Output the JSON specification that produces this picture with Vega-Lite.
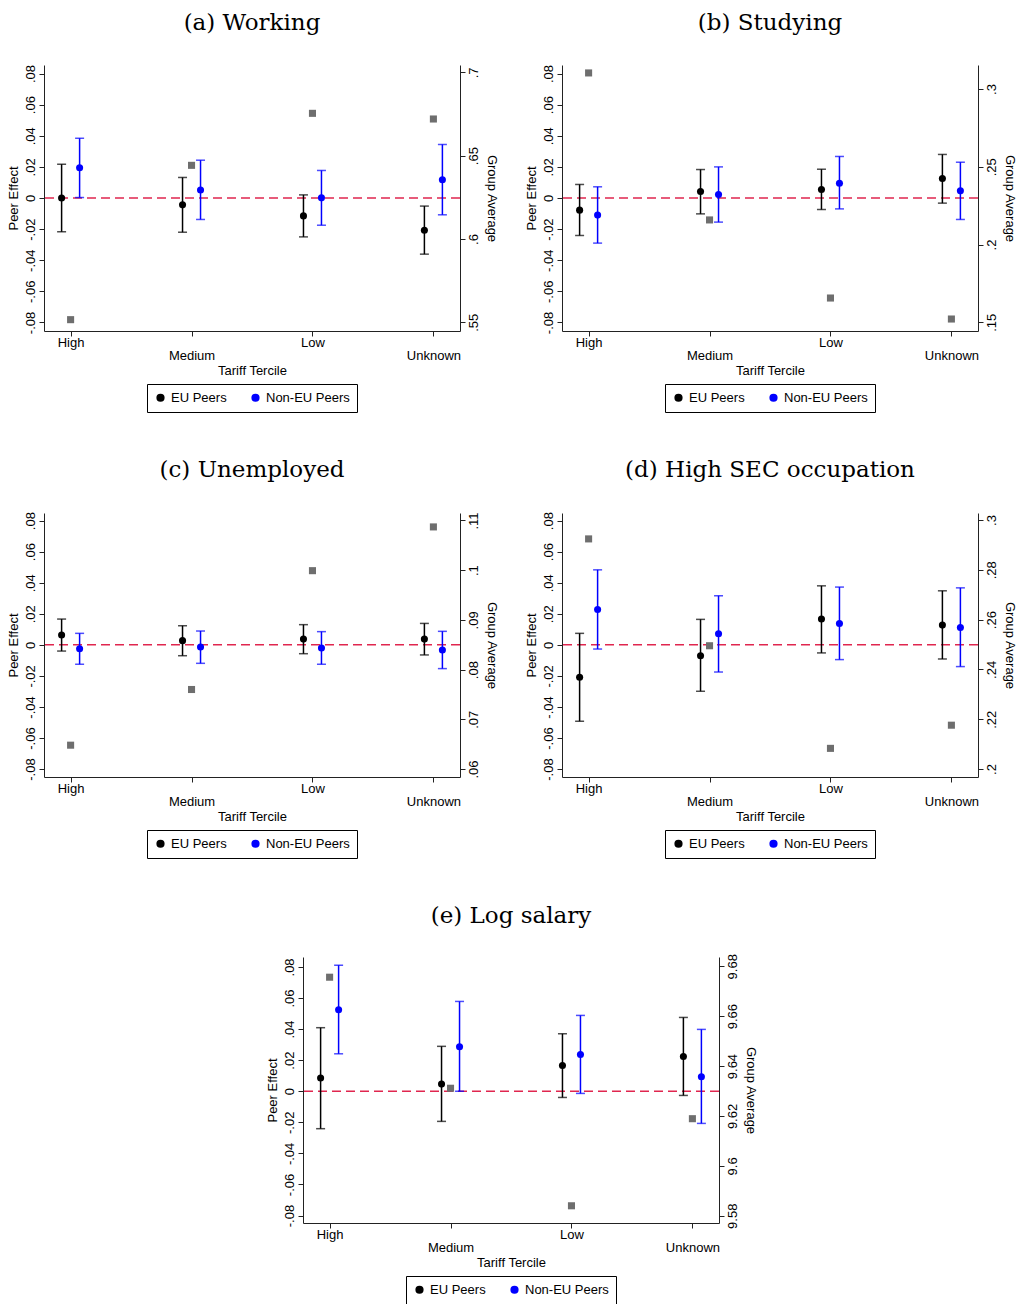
{
  "$schema": "https://vega.github.io/schema/vega-lite/v6.json",
  "padding": {"left": 7, "top": 11, "right": 5, "bottom": 0},
  "datasets": {
    "eff": [
      {"panel": "a", "cat": "High", "group": "EU Peers", "est": 0.0000, "lo": -0.0217, "hi": 0.0217},
      {"panel": "a", "cat": "High", "group": "Non-EU Peers", "est": 0.0194, "lo": 0.0003, "hi": 0.0384},
      {"panel": "a", "cat": "Medium", "group": "EU Peers", "est": -0.0044, "lo": -0.0220, "hi": 0.0132},
      {"panel": "a", "cat": "Medium", "group": "Non-EU Peers", "est": 0.0052, "lo": -0.0138, "hi": 0.0243},
      {"panel": "a", "cat": "Low", "group": "EU Peers", "est": -0.0115, "lo": -0.0250, "hi": 0.0020},
      {"panel": "a", "cat": "Low", "group": "Non-EU Peers", "est": 0.0001, "lo": -0.0175, "hi": 0.0177},
      {"panel": "a", "cat": "Unknown", "group": "EU Peers", "est": -0.0207, "lo": -0.0361, "hi": -0.0052},
      {"panel": "a", "cat": "Unknown", "group": "Non-EU Peers", "est": 0.0117, "lo": -0.0108, "hi": 0.0344},
      {"panel": "b", "cat": "High", "group": "EU Peers", "est": -0.0078, "lo": -0.0241, "hi": 0.0087},
      {"panel": "b", "cat": "High", "group": "Non-EU Peers", "est": -0.0110, "lo": -0.0290, "hi": 0.0072},
      {"panel": "b", "cat": "Medium", "group": "EU Peers", "est": 0.0042, "lo": -0.0102, "hi": 0.0183},
      {"panel": "b", "cat": "Medium", "group": "Non-EU Peers", "est": 0.0022, "lo": -0.0155, "hi": 0.0200},
      {"panel": "b", "cat": "Low", "group": "EU Peers", "est": 0.0055, "lo": -0.0074, "hi": 0.0185},
      {"panel": "b", "cat": "Low", "group": "Non-EU Peers", "est": 0.0095, "lo": -0.0070, "hi": 0.0267},
      {"panel": "b", "cat": "Unknown", "group": "EU Peers", "est": 0.0125, "lo": -0.0033, "hi": 0.0280},
      {"panel": "b", "cat": "Unknown", "group": "Non-EU Peers", "est": 0.0046, "lo": -0.0138, "hi": 0.0230},
      {"panel": "c", "cat": "High", "group": "EU Peers", "est": 0.0063, "lo": -0.0040, "hi": 0.0166},
      {"panel": "c", "cat": "High", "group": "Non-EU Peers", "est": -0.0025, "lo": -0.0125, "hi": 0.0074},
      {"panel": "c", "cat": "Medium", "group": "EU Peers", "est": 0.0027, "lo": -0.0070, "hi": 0.0123},
      {"panel": "c", "cat": "Medium", "group": "Non-EU Peers", "est": -0.0014, "lo": -0.0119, "hi": 0.0089},
      {"panel": "c", "cat": "Low", "group": "EU Peers", "est": 0.0037, "lo": -0.0057, "hi": 0.0130},
      {"panel": "c", "cat": "Low", "group": "Non-EU Peers", "est": -0.0020, "lo": -0.0125, "hi": 0.0085},
      {"panel": "c", "cat": "Unknown", "group": "EU Peers", "est": 0.0037, "lo": -0.0065, "hi": 0.0138},
      {"panel": "c", "cat": "Unknown", "group": "Non-EU Peers", "est": -0.0033, "lo": -0.0153, "hi": 0.0087},
      {"panel": "d", "cat": "High", "group": "EU Peers", "est": -0.0209, "lo": -0.0492, "hi": 0.0074},
      {"panel": "d", "cat": "High", "group": "Non-EU Peers", "est": 0.0228, "lo": -0.0027, "hi": 0.0483},
      {"panel": "d", "cat": "Medium", "group": "EU Peers", "est": -0.0070, "lo": -0.0299, "hi": 0.0164},
      {"panel": "d", "cat": "Medium", "group": "Non-EU Peers", "est": 0.0072, "lo": -0.0175, "hi": 0.0316},
      {"panel": "d", "cat": "Low", "group": "EU Peers", "est": 0.0166, "lo": -0.0052, "hi": 0.0380},
      {"panel": "d", "cat": "Low", "group": "Non-EU Peers", "est": 0.0138, "lo": -0.0095, "hi": 0.0372},
      {"panel": "d", "cat": "Unknown", "group": "EU Peers", "est": 0.0127, "lo": -0.0091, "hi": 0.0348},
      {"panel": "d", "cat": "Unknown", "group": "Non-EU Peers", "est": 0.0112, "lo": -0.0140, "hi": 0.0367},
      {"panel": "e", "cat": "High", "group": "EU Peers", "est": 0.0085, "lo": -0.0241, "hi": 0.0409},
      {"panel": "e", "cat": "High", "group": "Non-EU Peers", "est": 0.0524, "lo": 0.0241, "hi": 0.0811},
      {"panel": "e", "cat": "Medium", "group": "EU Peers", "est": 0.0046, "lo": -0.0194, "hi": 0.0289},
      {"panel": "e", "cat": "Medium", "group": "Non-EU Peers", "est": 0.0286, "lo": 0.0000, "hi": 0.0578},
      {"panel": "e", "cat": "Low", "group": "EU Peers", "est": 0.0166, "lo": -0.0040, "hi": 0.0370},
      {"panel": "e", "cat": "Low", "group": "Non-EU Peers", "est": 0.0237, "lo": -0.0014, "hi": 0.0488},
      {"panel": "e", "cat": "Unknown", "group": "EU Peers", "est": 0.0224, "lo": -0.0027, "hi": 0.0475},
      {"panel": "e", "cat": "Unknown", "group": "Non-EU Peers", "est": 0.0093, "lo": -0.0207, "hi": 0.0398}
    ],
    "avg": [
      {"panel": "a", "cat": "High", "avg": 0.5516},
      {"panel": "a", "cat": "Medium", "avg": 0.6442},
      {"panel": "a", "cat": "Low", "avg": 0.6754},
      {"panel": "a", "cat": "Unknown", "avg": 0.6720},
      {"panel": "b", "cat": "High", "avg": 0.3103},
      {"panel": "b", "cat": "Medium", "avg": 0.2158},
      {"panel": "b", "cat": "Low", "avg": 0.1656},
      {"panel": "b", "cat": "Unknown", "avg": 0.1521},
      {"panel": "c", "cat": "High", "avg": 0.0648},
      {"panel": "c", "cat": "Medium", "avg": 0.0760},
      {"panel": "c", "cat": "Low", "avg": 0.0999},
      {"panel": "c", "cat": "Unknown", "avg": 0.1087},
      {"panel": "d", "cat": "High", "avg": 0.2924},
      {"panel": "d", "cat": "Medium", "avg": 0.2495},
      {"panel": "d", "cat": "Low", "avg": 0.2083},
      {"panel": "d", "cat": "Unknown", "avg": 0.2176},
      {"panel": "e", "cat": "High", "avg": 9.6756},
      {"panel": "e", "cat": "Medium", "avg": 9.6311},
      {"panel": "e", "cat": "Low", "avg": 9.5840},
      {"panel": "e", "cat": "Unknown", "avg": 9.6189}
    ]
  },
  "config": {
    "font": "Liberation Sans",
    "view": {"stroke": null},
    "axis": {
      "labelFont": "Liberation Sans", "labelFontSize": 13, "labelColor": "black", "labelOverlap": false, "labelBound": false,
      "titleFont": "Liberation Sans", "titleFontSize": 13, "titleFontWeight": "normal", "titleColor": "black",
      "domainColor": "#222222", "tickColor": "#222222", "grid": false, "tickSize": 5
    },
    "title": {"font": "DejaVu Serif", "fontSize": 23, "fontWeight": "normal", "anchor": "middle", "frame": "group", "offset": 30, "color": "black"},
    "legend": {"labelFont": "Liberation Sans", "labelFontSize": 13, "labelColor": "black", "layout": {"bottom": {"anchor": "middle"}}}
  },
  "resolve": {"scale": {"color": "independent"}, "legend": {"color": "independent"}},
  "center": true,
  "spacing": 45,
  "vconcat": [
    {
      "hconcat": [
        {
          "title": "(a) Working", "width": 416, "height": 266,
          "resolve": {"scale": {"y": "independent"}},
          "layer": [
            {
              "layer": [
                {"data": {"values": [{}]}, "mark": {"type": "rule", "color": "#e0264f", "strokeDash": [9, 5], "strokeWidth": 1.5},
                 "encoding": {"y": {"datum": 0, "type": "quantitative", "scale": {"domain": [-0.0855, 0.0855], "nice": false, "zero": false}, "axis": {"title": "Peer Effect", "values": [-0.08, -0.06, -0.04, -0.02, 0, 0.02, 0.04, 0.06, 0.08], "labelExpr": "datum.value == 0 ? '0' : (datum.value < 0 ? '-' : '') + substring(format(abs(datum.value), '.2f'), 1)", "labelAngle": -90, "labelOverlap": false, "titlePadding": 4}}}},
                {"data": {"name": "eff"}, "transform": [{"filter": "datum.panel == 'a'"}], "mark": {"type": "circle", "size": 50, "opacity": 1},
                 "encoding": {"x": {"field": "cat", "type": "nominal", "scale": {"type": "point", "domain": ["High", "Medium", "Low", "Unknown"], "padding": 0.22}, "axis": {"title": "Tariff Tercile", "labelAngle": 0, "labelExpr": "datum.value == 'Medium' || datum.value == 'Unknown' ? ['', datum.value] : datum.value", "labelLineHeight": 13, "labelPadding": 0, "titlePadding": 2}},
                  "xOffset": {"field": "group", "type": "nominal", "scale": {"type": "point", "domain": ["EU Peers", "Non-EU Peers"], "range": [-18, 18]}},
                  "y": {"field": "est", "type": "quantitative", "axis": {"title": "Peer Effect", "values": [-0.08, -0.06, -0.04, -0.02, 0, 0.02, 0.04, 0.06, 0.08], "labelExpr": "datum.value == 0 ? '0' : (datum.value < 0 ? '-' : '') + substring(format(abs(datum.value), '.2f'), 1)", "labelAngle": -90, "labelOverlap": false, "titlePadding": 4}},
                  "color": {"field": "group", "type": "nominal", "scale": {"domain": ["EU Peers", "Non-EU Peers"], "range": ["black", "blue"]},
                   "legend": {"title": null, "orient": "bottom", "direction": "horizontal", "strokeColor": "black", "padding": 7, "symbolType": "circle", "symbolSize": 45, "columnPadding": 22, "offset": 7}}}},
                {"data": {"name": "eff"}, "transform": [{"filter": "datum.panel == 'a'"}], "mark": {"type": "rule", "strokeWidth": 1.5},
                 "encoding": {"x": {"field": "cat", "type": "nominal"}, "xOffset": {"field": "group", "type": "nominal", "scale": {"type": "point", "domain": ["EU Peers", "Non-EU Peers"], "range": [-18, 18]}},
                  "y": {"field": "lo", "type": "quantitative", "axis": {"title": "Peer Effect", "values": [-0.08, -0.06, -0.04, -0.02, 0, 0.02, 0.04, 0.06, 0.08], "labelExpr": "datum.value == 0 ? '0' : (datum.value < 0 ? '-' : '') + substring(format(abs(datum.value), '.2f'), 1)", "labelAngle": -90, "labelOverlap": false, "titlePadding": 4}}, "y2": {"field": "hi"},
                  "color": {"field": "group", "type": "nominal"}}},
                {"data": {"name": "eff"}, "transform": [{"filter": "datum.panel == 'a'"}], "mark": {"type": "tick", "size": 9, "thickness": 1.5},
                 "encoding": {"x": {"field": "cat", "type": "nominal"}, "xOffset": {"field": "group", "type": "nominal", "scale": {"type": "point", "domain": ["EU Peers", "Non-EU Peers"], "range": [-18, 18]}},
                  "y": {"field": "lo", "type": "quantitative", "axis": {"title": "Peer Effect", "values": [-0.08, -0.06, -0.04, -0.02, 0, 0.02, 0.04, 0.06, 0.08], "labelExpr": "datum.value == 0 ? '0' : (datum.value < 0 ? '-' : '') + substring(format(abs(datum.value), '.2f'), 1)", "labelAngle": -90, "labelOverlap": false, "titlePadding": 4}},
                  "color": {"field": "group", "type": "nominal"}}},
                {"data": {"name": "eff"}, "transform": [{"filter": "datum.panel == 'a'"}], "mark": {"type": "tick", "size": 9, "thickness": 1.5},
                 "encoding": {"x": {"field": "cat", "type": "nominal"}, "xOffset": {"field": "group", "type": "nominal", "scale": {"type": "point", "domain": ["EU Peers", "Non-EU Peers"], "range": [-18, 18]}},
                  "y": {"field": "hi", "type": "quantitative", "axis": {"title": "Peer Effect", "values": [-0.08, -0.06, -0.04, -0.02, 0, 0.02, 0.04, 0.06, 0.08], "labelExpr": "datum.value == 0 ? '0' : (datum.value < 0 ? '-' : '') + substring(format(abs(datum.value), '.2f'), 1)", "labelAngle": -90, "labelOverlap": false, "titlePadding": 4}},
                  "color": {"field": "group", "type": "nominal"}}}
              ]
            },
            {"data": {"name": "avg"}, "transform": [{"filter": "datum.panel == 'a'"}], "mark": {"type": "square", "size": 50, "color": "#6e6e6e", "opacity": 1},
             "encoding": {"x": {"field": "cat", "type": "nominal"},
              "y": {"field": "avg", "type": "quantitative", "scale": {"domain": [0.5448, 0.7044], "nice": false, "zero": false}, "axis": {"orient": "right", "title": "Group Average", "values": [0.55, 0.6, 0.65, 0.7], "labelExpr": "replace('' + datum.value, '0.', '.')", "labelAngle": -90, "titlePadding": 4}}}}
          ]
        },
        {
          "title": "(b) Studying", "width": 416, "height": 266,
          "resolve": {"scale": {"y": "independent"}},
          "layer": [
            {
              "layer": [
                {"data": {"values": [{}]}, "mark": {"type": "rule", "color": "#e0264f", "strokeDash": [9, 5], "strokeWidth": 1.5},
                 "encoding": {"y": {"datum": 0, "type": "quantitative", "scale": {"domain": [-0.0855, 0.0855], "nice": false, "zero": false}, "axis": {"title": "Peer Effect", "values": [-0.08, -0.06, -0.04, -0.02, 0, 0.02, 0.04, 0.06, 0.08], "labelExpr": "datum.value == 0 ? '0' : (datum.value < 0 ? '-' : '') + substring(format(abs(datum.value), '.2f'), 1)", "labelAngle": -90, "labelOverlap": false, "titlePadding": 4}}}},
                {"data": {"name": "eff"}, "transform": [{"filter": "datum.panel == 'b'"}], "mark": {"type": "circle", "size": 50, "opacity": 1},
                 "encoding": {"x": {"field": "cat", "type": "nominal", "scale": {"type": "point", "domain": ["High", "Medium", "Low", "Unknown"], "padding": 0.22}, "axis": {"title": "Tariff Tercile", "labelAngle": 0, "labelExpr": "datum.value == 'Medium' || datum.value == 'Unknown' ? ['', datum.value] : datum.value", "labelLineHeight": 13, "labelPadding": 0, "titlePadding": 2}},
                  "xOffset": {"field": "group", "type": "nominal", "scale": {"type": "point", "domain": ["EU Peers", "Non-EU Peers"], "range": [-18, 18]}},
                  "y": {"field": "est", "type": "quantitative", "axis": {"title": "Peer Effect", "values": [-0.08, -0.06, -0.04, -0.02, 0, 0.02, 0.04, 0.06, 0.08], "labelExpr": "datum.value == 0 ? '0' : (datum.value < 0 ? '-' : '') + substring(format(abs(datum.value), '.2f'), 1)", "labelAngle": -90, "labelOverlap": false, "titlePadding": 4}},
                  "color": {"field": "group", "type": "nominal", "scale": {"domain": ["EU Peers", "Non-EU Peers"], "range": ["black", "blue"]},
                   "legend": {"title": null, "orient": "bottom", "direction": "horizontal", "strokeColor": "black", "padding": 7, "symbolType": "circle", "symbolSize": 45, "columnPadding": 22, "offset": 7}}}},
                {"data": {"name": "eff"}, "transform": [{"filter": "datum.panel == 'b'"}], "mark": {"type": "rule", "strokeWidth": 1.5},
                 "encoding": {"x": {"field": "cat", "type": "nominal"}, "xOffset": {"field": "group", "type": "nominal", "scale": {"type": "point", "domain": ["EU Peers", "Non-EU Peers"], "range": [-18, 18]}},
                  "y": {"field": "lo", "type": "quantitative", "axis": {"title": "Peer Effect", "values": [-0.08, -0.06, -0.04, -0.02, 0, 0.02, 0.04, 0.06, 0.08], "labelExpr": "datum.value == 0 ? '0' : (datum.value < 0 ? '-' : '') + substring(format(abs(datum.value), '.2f'), 1)", "labelAngle": -90, "labelOverlap": false, "titlePadding": 4}}, "y2": {"field": "hi"},
                  "color": {"field": "group", "type": "nominal"}}},
                {"data": {"name": "eff"}, "transform": [{"filter": "datum.panel == 'b'"}], "mark": {"type": "tick", "size": 9, "thickness": 1.5},
                 "encoding": {"x": {"field": "cat", "type": "nominal"}, "xOffset": {"field": "group", "type": "nominal", "scale": {"type": "point", "domain": ["EU Peers", "Non-EU Peers"], "range": [-18, 18]}},
                  "y": {"field": "lo", "type": "quantitative", "axis": {"title": "Peer Effect", "values": [-0.08, -0.06, -0.04, -0.02, 0, 0.02, 0.04, 0.06, 0.08], "labelExpr": "datum.value == 0 ? '0' : (datum.value < 0 ? '-' : '') + substring(format(abs(datum.value), '.2f'), 1)", "labelAngle": -90, "labelOverlap": false, "titlePadding": 4}},
                  "color": {"field": "group", "type": "nominal"}}},
                {"data": {"name": "eff"}, "transform": [{"filter": "datum.panel == 'b'"}], "mark": {"type": "tick", "size": 9, "thickness": 1.5},
                 "encoding": {"x": {"field": "cat", "type": "nominal"}, "xOffset": {"field": "group", "type": "nominal", "scale": {"type": "point", "domain": ["EU Peers", "Non-EU Peers"], "range": [-18, 18]}},
                  "y": {"field": "hi", "type": "quantitative", "axis": {"title": "Peer Effect", "values": [-0.08, -0.06, -0.04, -0.02, 0, 0.02, 0.04, 0.06, 0.08], "labelExpr": "datum.value == 0 ? '0' : (datum.value < 0 ? '-' : '') + substring(format(abs(datum.value), '.2f'), 1)", "labelAngle": -90, "labelOverlap": false, "titlePadding": 4}},
                  "color": {"field": "group", "type": "nominal"}}}
              ]
            },
            {"data": {"name": "avg"}, "transform": [{"filter": "datum.panel == 'b'"}], "mark": {"type": "square", "size": 50, "color": "#6e6e6e", "opacity": 1},
             "encoding": {"x": {"field": "cat", "type": "nominal"},
              "y": {"field": "avg", "type": "quantitative", "scale": {"domain": [0.1444, 0.3154], "nice": false, "zero": false}, "axis": {"orient": "right", "title": "Group Average", "values": [0.15, 0.2, 0.25, 0.3], "labelExpr": "replace('' + datum.value, '0.', '.')", "labelAngle": -90, "titlePadding": 4}}}}
          ]
        }
      ],
      "spacing": 28,
      "resolve": {"scale": {"color": "independent"}, "legend": {"color": "independent"}}
    },
    {
      "hconcat": [
        {
          "title": "(c) Unemployed", "width": 416, "height": 264,
          "resolve": {"scale": {"y": "independent"}},
          "layer": [
            {
              "layer": [
                {"data": {"values": [{}]}, "mark": {"type": "rule", "color": "#e0264f", "strokeDash": [9, 5], "strokeWidth": 1.5},
                 "encoding": {"y": {"datum": 0, "type": "quantitative", "scale": {"domain": [-0.0851, 0.0849], "nice": false, "zero": false}, "axis": {"title": "Peer Effect", "values": [-0.08, -0.06, -0.04, -0.02, 0, 0.02, 0.04, 0.06, 0.08], "labelExpr": "datum.value == 0 ? '0' : (datum.value < 0 ? '-' : '') + substring(format(abs(datum.value), '.2f'), 1)", "labelAngle": -90, "labelOverlap": false, "titlePadding": 4}}}},
                {"data": {"name": "eff"}, "transform": [{"filter": "datum.panel == 'c'"}], "mark": {"type": "circle", "size": 50, "opacity": 1},
                 "encoding": {"x": {"field": "cat", "type": "nominal", "scale": {"type": "point", "domain": ["High", "Medium", "Low", "Unknown"], "padding": 0.22}, "axis": {"title": "Tariff Tercile", "labelAngle": 0, "labelExpr": "datum.value == 'Medium' || datum.value == 'Unknown' ? ['', datum.value] : datum.value", "labelLineHeight": 13, "labelPadding": 0, "titlePadding": 2}},
                  "xOffset": {"field": "group", "type": "nominal", "scale": {"type": "point", "domain": ["EU Peers", "Non-EU Peers"], "range": [-18, 18]}},
                  "y": {"field": "est", "type": "quantitative", "axis": {"title": "Peer Effect", "values": [-0.08, -0.06, -0.04, -0.02, 0, 0.02, 0.04, 0.06, 0.08], "labelExpr": "datum.value == 0 ? '0' : (datum.value < 0 ? '-' : '') + substring(format(abs(datum.value), '.2f'), 1)", "labelAngle": -90, "labelOverlap": false, "titlePadding": 4}},
                  "color": {"field": "group", "type": "nominal", "scale": {"domain": ["EU Peers", "Non-EU Peers"], "range": ["black", "blue"]},
                   "legend": {"title": null, "orient": "bottom", "direction": "horizontal", "strokeColor": "black", "padding": 7, "symbolType": "circle", "symbolSize": 45, "columnPadding": 22, "offset": 7}}}},
                {"data": {"name": "eff"}, "transform": [{"filter": "datum.panel == 'c'"}], "mark": {"type": "rule", "strokeWidth": 1.5},
                 "encoding": {"x": {"field": "cat", "type": "nominal"}, "xOffset": {"field": "group", "type": "nominal", "scale": {"type": "point", "domain": ["EU Peers", "Non-EU Peers"], "range": [-18, 18]}},
                  "y": {"field": "lo", "type": "quantitative", "axis": {"title": "Peer Effect", "values": [-0.08, -0.06, -0.04, -0.02, 0, 0.02, 0.04, 0.06, 0.08], "labelExpr": "datum.value == 0 ? '0' : (datum.value < 0 ? '-' : '') + substring(format(abs(datum.value), '.2f'), 1)", "labelAngle": -90, "labelOverlap": false, "titlePadding": 4}}, "y2": {"field": "hi"},
                  "color": {"field": "group", "type": "nominal"}}},
                {"data": {"name": "eff"}, "transform": [{"filter": "datum.panel == 'c'"}], "mark": {"type": "tick", "size": 9, "thickness": 1.5},
                 "encoding": {"x": {"field": "cat", "type": "nominal"}, "xOffset": {"field": "group", "type": "nominal", "scale": {"type": "point", "domain": ["EU Peers", "Non-EU Peers"], "range": [-18, 18]}},
                  "y": {"field": "lo", "type": "quantitative", "axis": {"title": "Peer Effect", "values": [-0.08, -0.06, -0.04, -0.02, 0, 0.02, 0.04, 0.06, 0.08], "labelExpr": "datum.value == 0 ? '0' : (datum.value < 0 ? '-' : '') + substring(format(abs(datum.value), '.2f'), 1)", "labelAngle": -90, "labelOverlap": false, "titlePadding": 4}},
                  "color": {"field": "group", "type": "nominal"}}},
                {"data": {"name": "eff"}, "transform": [{"filter": "datum.panel == 'c'"}], "mark": {"type": "tick", "size": 9, "thickness": 1.5},
                 "encoding": {"x": {"field": "cat", "type": "nominal"}, "xOffset": {"field": "group", "type": "nominal", "scale": {"type": "point", "domain": ["EU Peers", "Non-EU Peers"], "range": [-18, 18]}},
                  "y": {"field": "hi", "type": "quantitative", "axis": {"title": "Peer Effect", "values": [-0.08, -0.06, -0.04, -0.02, 0, 0.02, 0.04, 0.06, 0.08], "labelExpr": "datum.value == 0 ? '0' : (datum.value < 0 ? '-' : '') + substring(format(abs(datum.value), '.2f'), 1)", "labelAngle": -90, "labelOverlap": false, "titlePadding": 4}},
                  "color": {"field": "group", "type": "nominal"}}}
              ]
            },
            {"data": {"name": "avg"}, "transform": [{"filter": "datum.panel == 'c'"}], "mark": {"type": "square", "size": 50, "color": "#6e6e6e", "opacity": 1},
             "encoding": {"x": {"field": "cat", "type": "nominal"},
              "y": {"field": "avg", "type": "quantitative", "scale": {"domain": [0.0584, 0.1115], "nice": false, "zero": false}, "axis": {"orient": "right", "title": "Group Average", "values": [0.06, 0.07, 0.08, 0.09, 0.1, 0.11], "labelExpr": "replace('' + datum.value, '0.', '.')", "labelAngle": -90, "titlePadding": 4}}}}
          ]
        },
        {
          "title": "(d) High SEC occupation", "width": 416, "height": 264,
          "resolve": {"scale": {"y": "independent"}},
          "layer": [
            {
              "layer": [
                {"data": {"values": [{}]}, "mark": {"type": "rule", "color": "#e0264f", "strokeDash": [9, 5], "strokeWidth": 1.5},
                 "encoding": {"y": {"datum": 0, "type": "quantitative", "scale": {"domain": [-0.0851, 0.0849], "nice": false, "zero": false}, "axis": {"title": "Peer Effect", "values": [-0.08, -0.06, -0.04, -0.02, 0, 0.02, 0.04, 0.06, 0.08], "labelExpr": "datum.value == 0 ? '0' : (datum.value < 0 ? '-' : '') + substring(format(abs(datum.value), '.2f'), 1)", "labelAngle": -90, "labelOverlap": false, "titlePadding": 4}}}},
                {"data": {"name": "eff"}, "transform": [{"filter": "datum.panel == 'd'"}], "mark": {"type": "circle", "size": 50, "opacity": 1},
                 "encoding": {"x": {"field": "cat", "type": "nominal", "scale": {"type": "point", "domain": ["High", "Medium", "Low", "Unknown"], "padding": 0.22}, "axis": {"title": "Tariff Tercile", "labelAngle": 0, "labelExpr": "datum.value == 'Medium' || datum.value == 'Unknown' ? ['', datum.value] : datum.value", "labelLineHeight": 13, "labelPadding": 0, "titlePadding": 2}},
                  "xOffset": {"field": "group", "type": "nominal", "scale": {"type": "point", "domain": ["EU Peers", "Non-EU Peers"], "range": [-18, 18]}},
                  "y": {"field": "est", "type": "quantitative", "axis": {"title": "Peer Effect", "values": [-0.08, -0.06, -0.04, -0.02, 0, 0.02, 0.04, 0.06, 0.08], "labelExpr": "datum.value == 0 ? '0' : (datum.value < 0 ? '-' : '') + substring(format(abs(datum.value), '.2f'), 1)", "labelAngle": -90, "labelOverlap": false, "titlePadding": 4}},
                  "color": {"field": "group", "type": "nominal", "scale": {"domain": ["EU Peers", "Non-EU Peers"], "range": ["black", "blue"]},
                   "legend": {"title": null, "orient": "bottom", "direction": "horizontal", "strokeColor": "black", "padding": 7, "symbolType": "circle", "symbolSize": 45, "columnPadding": 22, "offset": 7}}}},
                {"data": {"name": "eff"}, "transform": [{"filter": "datum.panel == 'd'"}], "mark": {"type": "rule", "strokeWidth": 1.5},
                 "encoding": {"x": {"field": "cat", "type": "nominal"}, "xOffset": {"field": "group", "type": "nominal", "scale": {"type": "point", "domain": ["EU Peers", "Non-EU Peers"], "range": [-18, 18]}},
                  "y": {"field": "lo", "type": "quantitative", "axis": {"title": "Peer Effect", "values": [-0.08, -0.06, -0.04, -0.02, 0, 0.02, 0.04, 0.06, 0.08], "labelExpr": "datum.value == 0 ? '0' : (datum.value < 0 ? '-' : '') + substring(format(abs(datum.value), '.2f'), 1)", "labelAngle": -90, "labelOverlap": false, "titlePadding": 4}}, "y2": {"field": "hi"},
                  "color": {"field": "group", "type": "nominal"}}},
                {"data": {"name": "eff"}, "transform": [{"filter": "datum.panel == 'd'"}], "mark": {"type": "tick", "size": 9, "thickness": 1.5},
                 "encoding": {"x": {"field": "cat", "type": "nominal"}, "xOffset": {"field": "group", "type": "nominal", "scale": {"type": "point", "domain": ["EU Peers", "Non-EU Peers"], "range": [-18, 18]}},
                  "y": {"field": "lo", "type": "quantitative", "axis": {"title": "Peer Effect", "values": [-0.08, -0.06, -0.04, -0.02, 0, 0.02, 0.04, 0.06, 0.08], "labelExpr": "datum.value == 0 ? '0' : (datum.value < 0 ? '-' : '') + substring(format(abs(datum.value), '.2f'), 1)", "labelAngle": -90, "labelOverlap": false, "titlePadding": 4}},
                  "color": {"field": "group", "type": "nominal"}}},
                {"data": {"name": "eff"}, "transform": [{"filter": "datum.panel == 'd'"}], "mark": {"type": "tick", "size": 9, "thickness": 1.5},
                 "encoding": {"x": {"field": "cat", "type": "nominal"}, "xOffset": {"field": "group", "type": "nominal", "scale": {"type": "point", "domain": ["EU Peers", "Non-EU Peers"], "range": [-18, 18]}},
                  "y": {"field": "hi", "type": "quantitative", "axis": {"title": "Peer Effect", "values": [-0.08, -0.06, -0.04, -0.02, 0, 0.02, 0.04, 0.06, 0.08], "labelExpr": "datum.value == 0 ? '0' : (datum.value < 0 ? '-' : '') + substring(format(abs(datum.value), '.2f'), 1)", "labelAngle": -90, "labelOverlap": false, "titlePadding": 4}},
                  "color": {"field": "group", "type": "nominal"}}}
              ]
            },
            {"data": {"name": "avg"}, "transform": [{"filter": "datum.panel == 'd'"}], "mark": {"type": "square", "size": 50, "color": "#6e6e6e", "opacity": 1},
             "encoding": {"x": {"field": "cat", "type": "nominal"},
              "y": {"field": "avg", "type": "quantitative", "scale": {"domain": [0.1968, 0.3028], "nice": false, "zero": false}, "axis": {"orient": "right", "title": "Group Average", "values": [0.2, 0.22, 0.24, 0.26, 0.28, 0.3], "labelExpr": "replace('' + datum.value, '0.', '.')", "labelAngle": -90, "titlePadding": 4}}}}
          ]
        }
      ],
      "spacing": 28,
      "resolve": {"scale": {"color": "independent"}, "legend": {"color": "independent"}}
    },
    {
      "title": {"text": "(e) Log salary", "offset": 26}, "width": 416, "height": 266,
      "resolve": {"scale": {"y": "independent"}},
      "layer": [
        {
          "layer": [
            {"data": {"values": [{}]}, "mark": {"type": "rule", "color": "#e0264f", "strokeDash": [9, 5], "strokeWidth": 1.5},
             "encoding": {"y": {"datum": 0, "type": "quantitative", "scale": {"domain": [-0.0848, 0.0864], "nice": false, "zero": false}, "axis": {"title": "Peer Effect", "values": [-0.08, -0.06, -0.04, -0.02, 0, 0.02, 0.04, 0.06, 0.08], "labelExpr": "datum.value == 0 ? '0' : (datum.value < 0 ? '-' : '') + substring(format(abs(datum.value), '.2f'), 1)", "labelAngle": -90, "labelOverlap": false, "titlePadding": 4}}}},
            {"data": {"name": "eff"}, "transform": [{"filter": "datum.panel == 'e'"}], "mark": {"type": "circle", "size": 50, "opacity": 1},
             "encoding": {"x": {"field": "cat", "type": "nominal", "scale": {"type": "point", "domain": ["High", "Medium", "Low", "Unknown"], "padding": 0.22}, "axis": {"title": "Tariff Tercile", "labelAngle": 0, "labelExpr": "datum.value == 'Medium' || datum.value == 'Unknown' ? ['', datum.value] : datum.value", "labelLineHeight": 13, "labelPadding": 0, "titlePadding": 2}},
              "xOffset": {"field": "group", "type": "nominal", "scale": {"type": "point", "domain": ["EU Peers", "Non-EU Peers"], "range": [-18, 18]}},
              "y": {"field": "est", "type": "quantitative", "axis": {"title": "Peer Effect", "values": [-0.08, -0.06, -0.04, -0.02, 0, 0.02, 0.04, 0.06, 0.08], "labelExpr": "datum.value == 0 ? '0' : (datum.value < 0 ? '-' : '') + substring(format(abs(datum.value), '.2f'), 1)", "labelAngle": -90, "labelOverlap": false, "titlePadding": 4}},
              "color": {"field": "group", "type": "nominal", "scale": {"domain": ["EU Peers", "Non-EU Peers"], "range": ["black", "blue"]},
               "legend": {"title": null, "orient": "bottom", "direction": "horizontal", "strokeColor": "black", "padding": 7, "symbolType": "circle", "symbolSize": 45, "columnPadding": 22, "offset": 7}}}},
            {"data": {"name": "eff"}, "transform": [{"filter": "datum.panel == 'e'"}], "mark": {"type": "rule", "strokeWidth": 1.5},
             "encoding": {"x": {"field": "cat", "type": "nominal"}, "xOffset": {"field": "group", "type": "nominal", "scale": {"type": "point", "domain": ["EU Peers", "Non-EU Peers"], "range": [-18, 18]}},
              "y": {"field": "lo", "type": "quantitative", "axis": {"title": "Peer Effect", "values": [-0.08, -0.06, -0.04, -0.02, 0, 0.02, 0.04, 0.06, 0.08], "labelExpr": "datum.value == 0 ? '0' : (datum.value < 0 ? '-' : '') + substring(format(abs(datum.value), '.2f'), 1)", "labelAngle": -90, "labelOverlap": false, "titlePadding": 4}}, "y2": {"field": "hi"},
              "color": {"field": "group", "type": "nominal"}}},
            {"data": {"name": "eff"}, "transform": [{"filter": "datum.panel == 'e'"}], "mark": {"type": "tick", "size": 9, "thickness": 1.5},
             "encoding": {"x": {"field": "cat", "type": "nominal"}, "xOffset": {"field": "group", "type": "nominal", "scale": {"type": "point", "domain": ["EU Peers", "Non-EU Peers"], "range": [-18, 18]}},
              "y": {"field": "lo", "type": "quantitative", "axis": {"title": "Peer Effect", "values": [-0.08, -0.06, -0.04, -0.02, 0, 0.02, 0.04, 0.06, 0.08], "labelExpr": "datum.value == 0 ? '0' : (datum.value < 0 ? '-' : '') + substring(format(abs(datum.value), '.2f'), 1)", "labelAngle": -90, "labelOverlap": false, "titlePadding": 4}},
              "color": {"field": "group", "type": "nominal"}}},
            {"data": {"name": "eff"}, "transform": [{"filter": "datum.panel == 'e'"}], "mark": {"type": "tick", "size": 9, "thickness": 1.5},
             "encoding": {"x": {"field": "cat", "type": "nominal"}, "xOffset": {"field": "group", "type": "nominal", "scale": {"type": "point", "domain": ["EU Peers", "Non-EU Peers"], "range": [-18, 18]}},
              "y": {"field": "hi", "type": "quantitative", "axis": {"title": "Peer Effect", "values": [-0.08, -0.06, -0.04, -0.02, 0, 0.02, 0.04, 0.06, 0.08], "labelExpr": "datum.value == 0 ? '0' : (datum.value < 0 ? '-' : '') + substring(format(abs(datum.value), '.2f'), 1)", "labelAngle": -90, "labelOverlap": false, "titlePadding": 4}},
              "color": {"field": "group", "type": "nominal"}}}
          ]
        },
        {"data": {"name": "avg"}, "transform": [{"filter": "datum.panel == 'e'"}], "mark": {"type": "square", "size": 50, "color": "#6e6e6e", "opacity": 1},
         "encoding": {"x": {"field": "cat", "type": "nominal"},
          "y": {"field": "avg", "type": "quantitative", "scale": {"domain": [9.5771, 9.6837], "nice": false, "zero": false}, "axis": {"orient": "right", "title": "Group Average", "values": [9.58, 9.6, 9.62, 9.64, 9.66, 9.68], "labelExpr": "replace('' + datum.value, '0.', '.')", "labelAngle": -90, "titlePadding": 4}}}}
      ]
    }
  ]
}
